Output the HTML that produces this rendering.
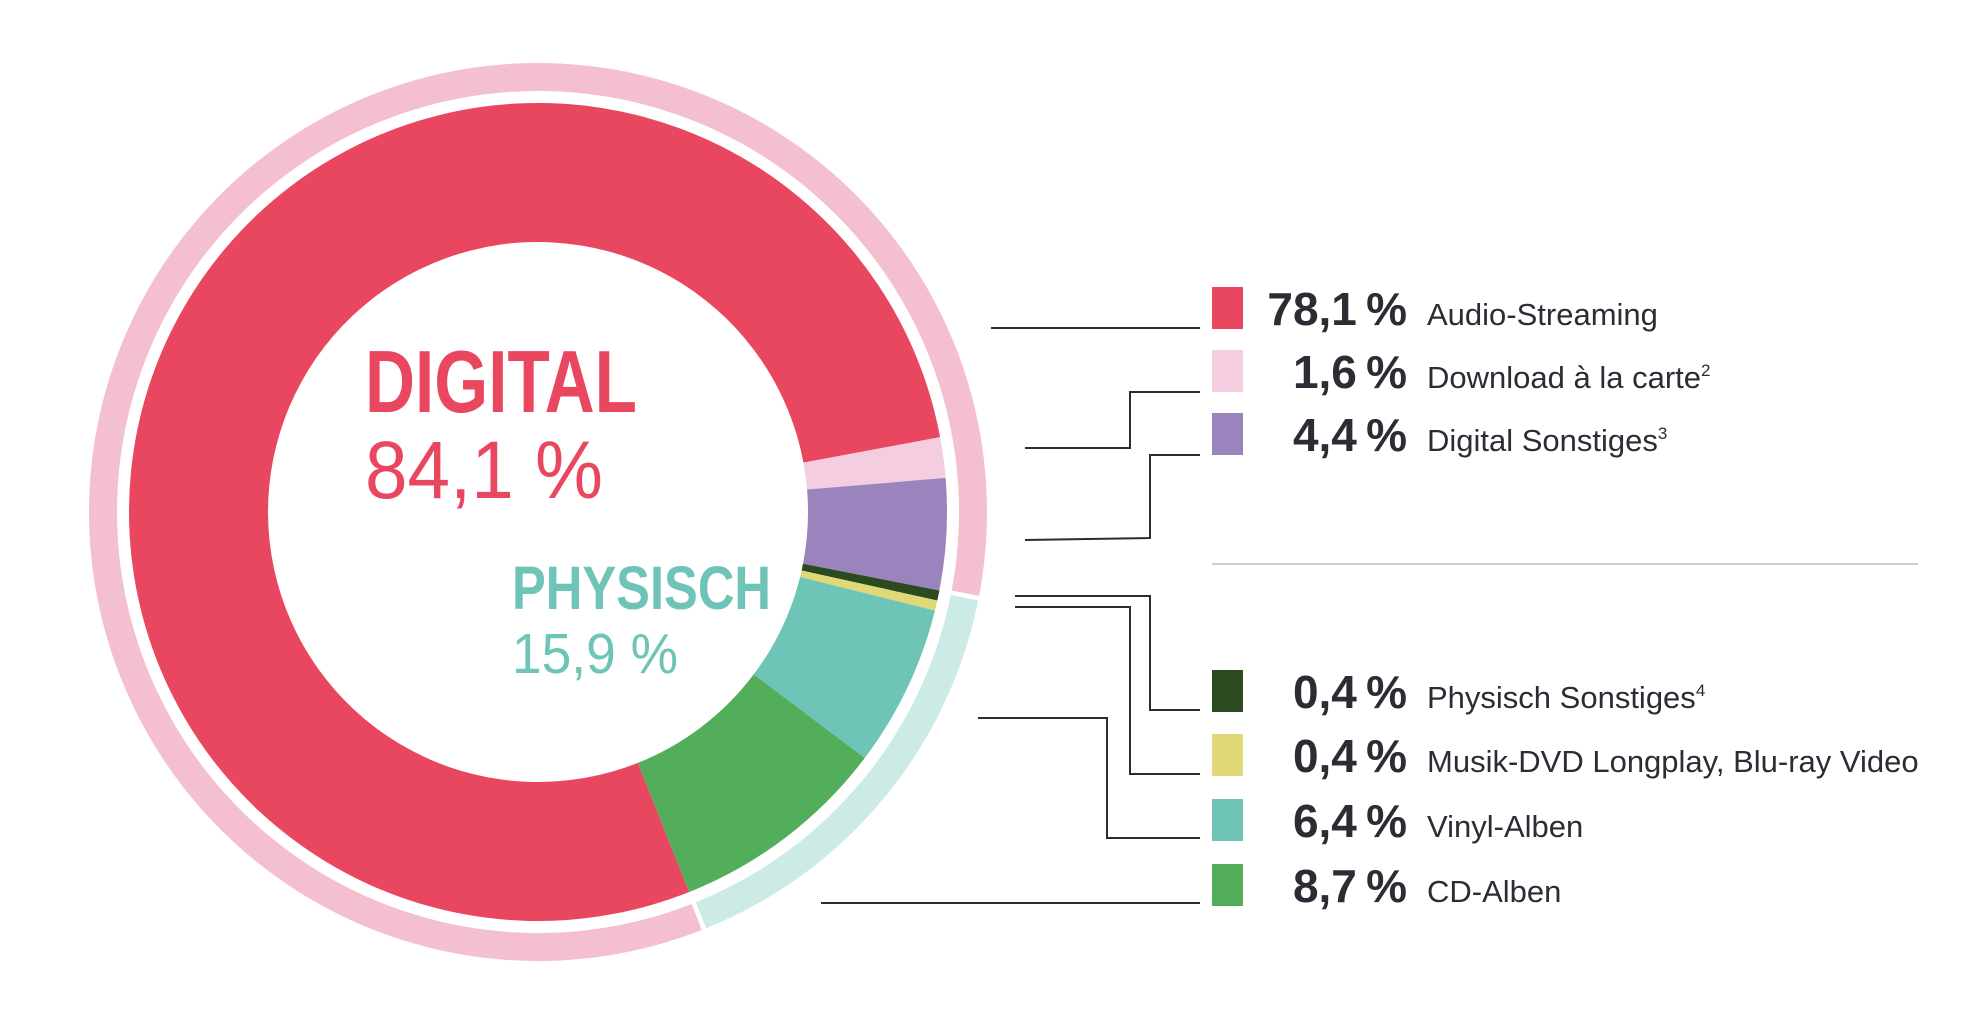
<!DOCTYPE html>
<html><head><meta charset="utf-8"><style>
html,body{margin:0;padding:0;background:#fff;}
svg{display:block;font-family:"Liberation Sans",sans-serif;}
</style></head><body>
<svg id="chart" width="1970" height="1020" viewBox="0 0 1970 1020" xmlns="http://www.w3.org/2000/svg">
<g id="donut"></g>
<g id="ring"></g>
<g>
<text x="365" y="412" font-size="88" font-weight="bold" fill="#e9465f" textLength="272" lengthAdjust="spacingAndGlyphs">DIGITAL</text>
<text x="365" y="498" font-size="82" fill="#e9465f" textLength="238" lengthAdjust="spacingAndGlyphs">84,1 %</text>
<text x="512" y="609" font-size="61" font-weight="bold" fill="#6fc4b8" textLength="259" lengthAdjust="spacingAndGlyphs">PHYSISCH</text>
<text x="512" y="673" font-size="57" fill="#6fc4b8" textLength="166" lengthAdjust="spacingAndGlyphs">15,9 %</text>
</g>
<line x1="1212" y1="564" x2="1918" y2="564" stroke="#cfcfcf" stroke-width="2"/>
<g id="leaders" fill="none" stroke="#2d2c35" stroke-width="2">
<polyline points="991,328 1200,328"/>
<polyline points="1025,448 1130,448 1130,392 1200,392"/>
<polyline points="1025,540 1150,538 1150,455 1200,455"/>
<polyline points="1015,596 1150,596 1150,710 1200,710"/>
<polyline points="1015,607 1130,607 1130,774 1200,774"/>
<polyline points="978,718 1107,718 1107,838 1200,838"/>
<polyline points="821,903 1200,903"/>
</g>
<g id="legend"></g>
</svg>
<script>
const categories = ["Audio-Streaming","Download à la carte","Digital Sonstiges","Physisch Sonstiges","Musik-DVD Longplay, Blu-ray Video","Vinyl-Alben","CD-Alben"];
const values = [78.1, 1.6, 4.4, 0.4, 0.4, 6.4, 8.7];
const valueLabels = ["78,1\u2009%","1,6\u2009%","4,4\u2009%","0,4\u2009%","0,4\u2009%","6,4\u2009%","8,7\u2009%"];
const footnotes = ["","2","3","4","","",""];
const groupNames = ["Digital","Physisch"];
const groupValues = [84.1, 15.9];

const colors = ["#e9465f","#f4cde0","#9b84bd","#2b4a1f","#e0d877","#6fc4b8","#52ae5b"];
const groupColors = ["#f4c0cf","#cdebe6"];
const legendY = [308,371,434,691,755,820,885];
const NS = "http://www.w3.org/2000/svg";
const cx = 538, cy = 512, r0 = 270, r1 = 409, R0 = 421, R1 = 449, startDeg = 158.3;
function pt(r, deg){ const a = deg*Math.PI/180; return [cx + r*Math.sin(a), cy - r*Math.cos(a)]; }
function arc(ri, ro, a0, a1){
  const large = (a1-a0) > 180 ? 1 : 0;
  const p1=pt(ro,a0), p2=pt(ro,a1), p3=pt(ri,a1), p4=pt(ri,a0);
  return `M${p1[0]},${p1[1]} A${ro},${ro} 0 ${large} 1 ${p2[0]},${p2[1]} L${p3[0]},${p3[1]} A${ri},${ri} 0 ${large} 0 ${p4[0]},${p4[1]} Z`;
}
const total = values.reduce((a,b)=>a+b,0);
let a = startDeg;
const donut = document.getElementById('donut');
values.forEach((v,i)=>{
  const sweep = v/total*360;
  const p = document.createElementNS(NS,'path');
  p.setAttribute('d', arc(r0, r1, a, a+sweep));
  p.setAttribute('fill', colors[i]);
  
  
  donut.appendChild(p);
  a += sweep;
});
const gTotal = groupValues.reduce((x,y)=>x+y,0);
let b = startDeg;
const ring = document.getElementById('ring');
groupValues.forEach((v,i)=>{
  const sweep = v/gTotal*360;
  const p = document.createElementNS(NS,'path');
  p.setAttribute('d', arc(R0, R1, b+0.3, b+sweep-0.3));
  p.setAttribute('fill', groupColors[i]);
  
  
  ring.appendChild(p);
  b += sweep;
});
const legend = document.getElementById('legend');
categories.forEach((c,i)=>{
  const y = legendY[i];
  const sq = document.createElementNS(NS,'rect');
  sq.setAttribute('x',1212); sq.setAttribute('y',y-21); sq.setAttribute('width',31); sq.setAttribute('height',42);
  sq.setAttribute('fill',colors[i]);
  
  
  legend.appendChild(sq);
  const t = document.createElementNS(NS,'text');
  t.setAttribute('x',1407); t.setAttribute('y',y+17); t.setAttribute('text-anchor','end');
  t.setAttribute('font-size',46); t.setAttribute('font-weight','bold'); t.setAttribute('fill','#2d2c35');
  t.textContent = valueLabels[i];
  
  
  legend.appendChild(t);
  const l = document.createElementNS(NS,'text');
  l.setAttribute('x',1427); l.setAttribute('y',y+17);
  l.setAttribute('font-size',31); l.setAttribute('fill','#2d2c35');
  l.textContent = c;
  if (footnotes[i]) {
    const s = document.createElementNS(NS,'tspan');
    s.setAttribute('dy',-12); s.setAttribute('font-size',17);
    s.textContent = footnotes[i];
    l.appendChild(s);
  }
  
  
  legend.appendChild(l);
});
</script>
</body></html>
